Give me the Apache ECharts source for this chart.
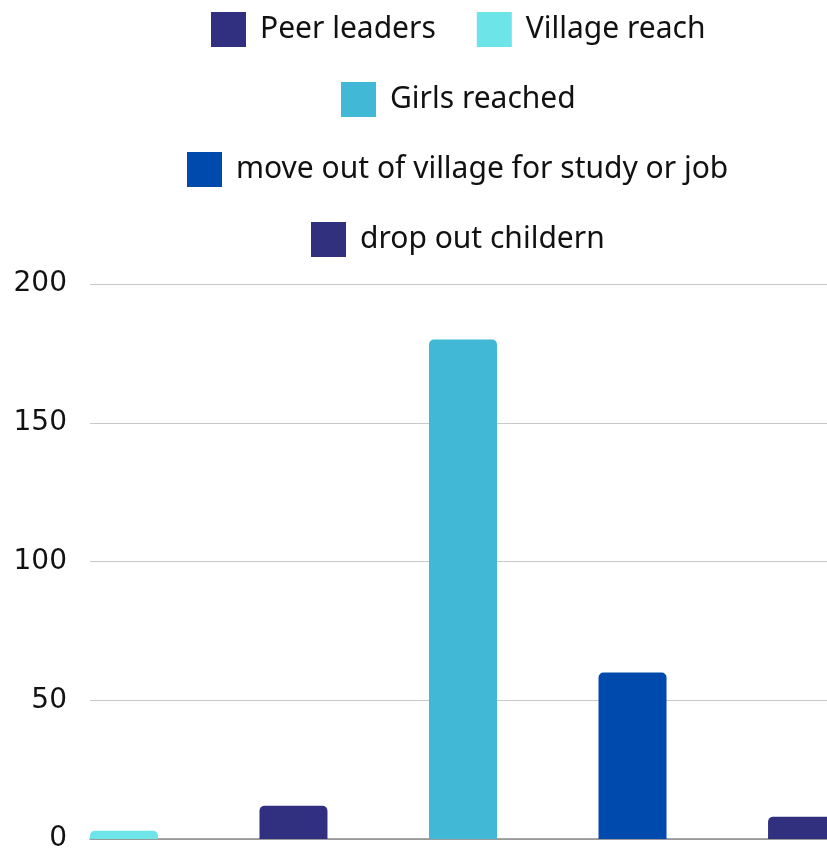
<!DOCTYPE html>
<html>
<head>
<meta charset="utf-8">
<script src="https://cdn.jsdelivr.net/npm/echarts@6/dist/echarts.min.js"></script>
<style>html,body{margin:0;padding:0;background:#fff}#c{width:827px;height:850px}</style>
</head>
<body>
<div id="c"></div>
<script>
var seriesNames = ['Village reach', 'Peer leaders', 'Girls reached', 'move out of village for study or job', 'drop out childern'];
var seriesValues = [3, 12, 180, 60, 8];
var seriesColors = ['#6de4e8', '#312f80', '#42b8d7', '#014aad', '#31307f'];
var categories = [''];
var yTicks = [0, 50, 100, 150, 200];

var legendRows = [
  ['Peer leaders', 'Village reach'],
  ['Girls reached'],
  ['move out of village for study or job'],
  ['drop out childern']
];
var legendTops = [12, 82, 152, 222];

var font = '"Noto Sans", sans-serif';
var legendFontSize = 30;
var legendCenter = 458;

function measure(txt) {
  var c = document.createElement('canvas').getContext('2d');
  c.font = legendFontSize + 'px ' + font;
  return c.measureText(txt).width;
}

var legends = legendRows.map(function (row, i) {
  var w = 0;
  row.forEach(function (t, j) { w += 35 + 5 + 9 + measure(t) + (j > 0 ? 41 : 0); });
  return {
    data: row,
    left: Math.round(legendCenter - w / 2),
    top: legendTops[i],
    itemWidth: 35,
    itemHeight: 35,
    itemGap: 41,
    icon: 'rect',
    padding: 0,
    selectedMode: false,
    textStyle: { fontFamily: font, fontSize: legendFontSize, color: '#111', padding: [0, 0, 0, 9] }
  };
});

var chart = echarts.init(document.getElementById('c'), null, { renderer: 'canvas' });
chart.setOption({
  animation: false,
  backgroundColor: '#fff',
  legend: legends,
  grid: { left: 90, width: 746, top: 284, bottom: 11, containLabel: false, outerBoundsMode: 'none' },
  xAxis: {
    type: 'category',
    data: categories,
    axisTick: { show: false },
    axisLabel: { show: false },
    axisLine: { lineStyle: { color: '#8a8a8a', width: 1.5 } }
  },
  yAxis: {
    type: 'value',
    min: yTicks[0],
    max: yTicks[yTicks.length - 1],
    interval: 50,
    axisLine: { show: false },
    axisTick: { show: false },
    axisLabel: { margin: 23, fontFamily: '"DejaVu Sans", sans-serif', fontSize: 28, color: '#111' },
    splitLine: { lineStyle: { color: '#c8c8c8', width: 1 } }
  },
  series: seriesNames.map(function (n, i) {
    return {
      name: n,
      type: 'bar',
      data: [seriesValues[i]],
      barWidth: 68,
      barGap: '149.3%',
      itemStyle: { color: seriesColors[i], borderRadius: [5, 5, 0, 0] }
    };
  })
});
</script>
</body>
</html>
